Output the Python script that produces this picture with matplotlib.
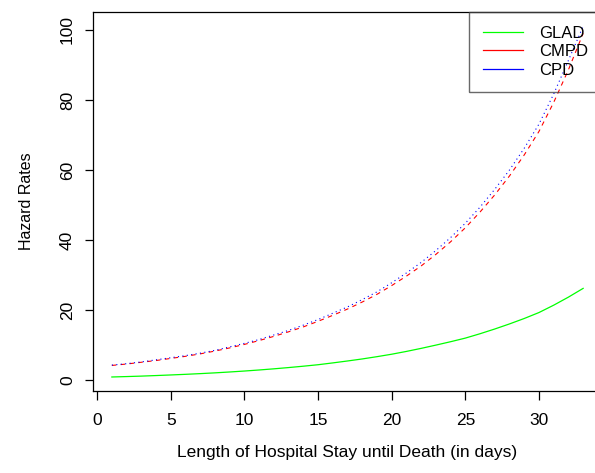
import matplotlib as mpl
import matplotlib.pyplot as plt
from matplotlib.lines import Line2D

mpl.rcParams.update(
    {
        "font.family": ["Liberation Sans", "DejaVu Sans"],
        "font.size": 12.5,
        "axes.linewidth": 0.9,
        "xtick.major.width": 0.9,
        "ytick.major.width": 0.9,
        "xtick.major.size": 6.5,
        "ytick.major.size": 6.0,
    }
)

# length of stay (days) and hazard rates
days = list(range(1, 34))
glad = [0.90, 1.02, 1.15, 1.31, 1.48, 1.66, 1.86, 2.08, 2.33, 2.60,
        2.90, 3.23, 3.59, 3.98, 4.40, 4.92, 5.47, 6.05, 6.70, 7.40,
        8.20, 9.07, 10.00, 10.97, 12.00, 13.25, 14.60, 16.05, 17.60, 19.30,
        21.40, 23.70, 26.20]
cmpd = [4.2, 4.6, 5.1, 5.6, 6.2, 6.8, 7.5, 8.3, 9.2, 10.2,
        11.3, 12.5, 13.8, 15.2, 16.8, 18.5, 20.3, 22.3, 24.5, 27.0,
        29.7, 32.6, 35.9, 39.5, 43.5, 48.0, 52.9, 58.3, 64.3, 71.0,
        79.3, 88.6, 99.0]
cpd = [4.3, 4.7, 5.2, 5.8, 6.4, 7.0, 7.7, 8.5, 9.5, 10.5,
       11.6, 12.9, 14.2, 15.7, 17.3, 19.1, 20.9, 23.0, 25.2, 27.8,
       30.6, 33.6, 37.0, 40.7, 44.8, 49.4, 54.5, 60.0, 66.2, 73.1,
       81.7, 91.3, 101.0]
labels = ["GLAD", "CMPD", "CPD"]
colors = ["#00ff00", "#ff0000", "#0000ff"]

fig = plt.figure(figsize=(5.95, 4.73), dpi=100)
# plot region runs a little past the right edge, as in the original
ax = fig.add_axes([93 / 595, (473 - 391) / 473, 509 / 595, 379 / 473])

ax.plot(days, glad, color=colors[0], lw=0.9)
ax.plot(days, cmpd, color=colors[1], lw=0.8, linestyle=(0, (4, 4)))
ax.plot(days, cpd, color=colors[2], lw=0.8, linestyle=(0, (1, 3)))

ax.set_xlim(-0.28, 34.28)
ax.set_ylim(-3.1, 105.1)
ax.set_xticks([0, 5, 10, 15, 20, 25, 30])
ax.set_yticks([0, 20, 40, 60, 80, 100])
ax.tick_params(axis="x", pad=9.5)
ax.tick_params(axis="y", pad=7)
for t in ax.get_yticklabels():
    t.set_rotation(90)
    t.set_va("center")

ax.set_xlabel("Length of Hospital Stay until Death (in days)", labelpad=12)
ax.set_ylabel("Hazard Rates", labelpad=19, fontsize=11.5)

handles = [Line2D([], [], color=c, lw=0.9) for c in colors]
leg = ax.legend(
    handles, labels, loc="upper right", bbox_to_anchor=(1, 1),
    borderaxespad=0, fancybox=False, edgecolor="#444444", facecolor="none",
    handlelength=2.4, handletextpad=1.0, borderpad=0.82, labelspacing=0.22,
    fontsize=12, framealpha=None,
)
leg.get_frame().set_linewidth(1.0)

fig.savefig("out.png", dpi=100)
